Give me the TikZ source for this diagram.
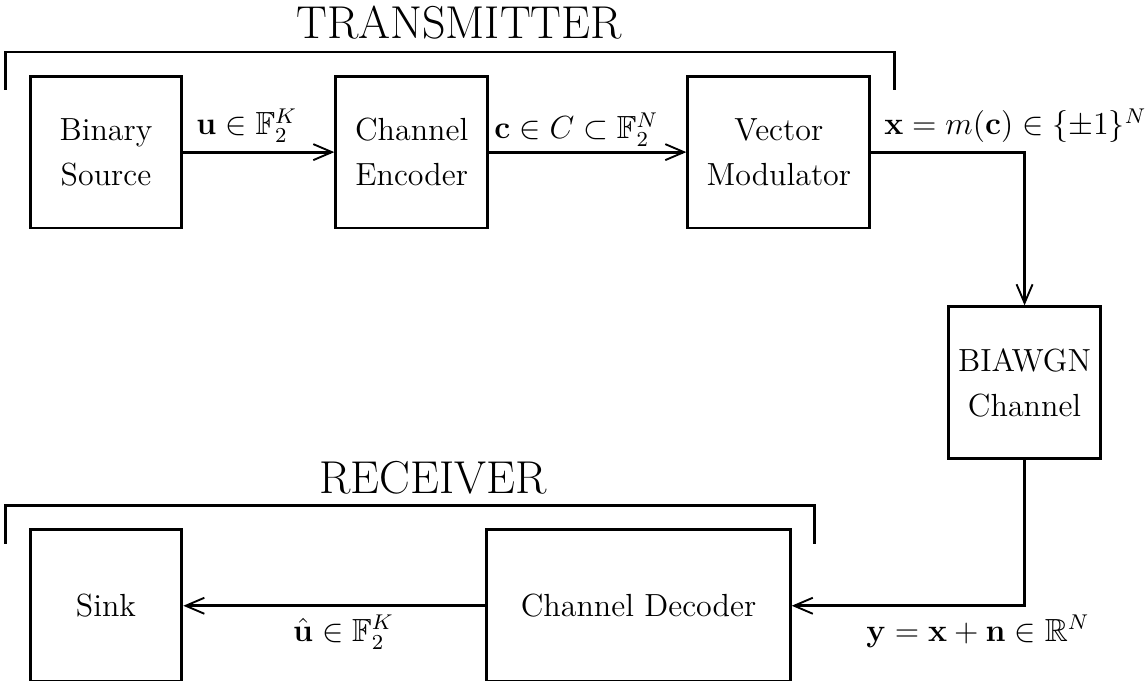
\documentclass[tikz,border=0pt]{standalone}
\usepackage{amsmath,amssymb}
\usepackage{tikz}
\usetikzlibrary{arrows.meta,positioning,calc}

\begin{document}
\begin{tikzpicture}[node distance=1cm,>={Straight Barb[length=7pt,width=6pt,line width=0.7pt]},line width=1.1pt]
\tikzset{blk/.style={draw,minimum width=2cm,minimum height=2cm,align=center,font=\fontsize{12}{17}\selectfont},lbl/.style={font=\large,inner sep=3pt},ttl/.style={font=\LARGE,inner sep=0pt}}
\useasboundingbox (0,0) rectangle (15.13,8.975);
\node[blk] (src) at (1.397,6.97) {Binary\\Source};
\node[blk,right=1.99cm of src] (enc) {Channel\\Encoder};
\node[blk,right=2.6cm of enc,minimum width=2.4cm] (mod) {Vector\\Modulator};
\node[blk,below right=1cm and 1cm of mod] (chan) {BIAWGN\\Channel};
\node[blk,below=3.94cm of src] (sink) {Sink};
\node[blk,right=3.98cm of sink,minimum width=4cm] (dec) {Channel Decoder};
% brackets and titles
\draw ([xshift=-3mm,yshift=-2mm]src.north west) |- ([xshift=3mm,yshift=3mm]mod.north east) -- ([xshift=3mm,yshift=-2mm]mod.north east);
\draw ([xshift=-3mm,yshift=-2mm]sink.north west) |- ([xshift=3mm,yshift=3mm]dec.north east) -- ([xshift=3mm,yshift=-2mm]dec.north east);
\node[ttl,anchor=base] (tx) at ($(src.north west)!0.5!(mod.north east)+(1.2mm,4.8mm)$) {TRANSMITTER};
\node[ttl,anchor=base] (rx) at ($(sink.north west)!0.5!(dec.north east)+(3mm,4.6mm)$) {RECEIVER};
% signal path
\draw[->] (src) -- node[lbl,above,xshift=-1.6mm] {$\mathbf{u}\in\mathbb{F}_2^K$} (enc);
\draw[->] (enc) -- node[lbl,above,xshift=-1.5mm,yshift=-1.5pt] {$\mathbf{c}\in C\subset\mathbb{F}_2^N$} (mod);
\draw[->] (mod) -| node[lbl,above,pos=0.47] {$\mathbf{x}=m(\mathbf{c})\in\{\pm1\}^N$} (chan);
\draw[->] (chan) |- node[lbl,below,pos=0.6] {$\mathbf{y}=\mathbf{x}+\mathbf{n}\in\mathbb{R}^N$} (dec);
\draw[->] (dec) -- node[lbl,below,xshift=1.2mm] {$\hat{\mathbf{u}}\in\mathbb{F}_2^K$} (sink);
\end{tikzpicture}
\end{document}
